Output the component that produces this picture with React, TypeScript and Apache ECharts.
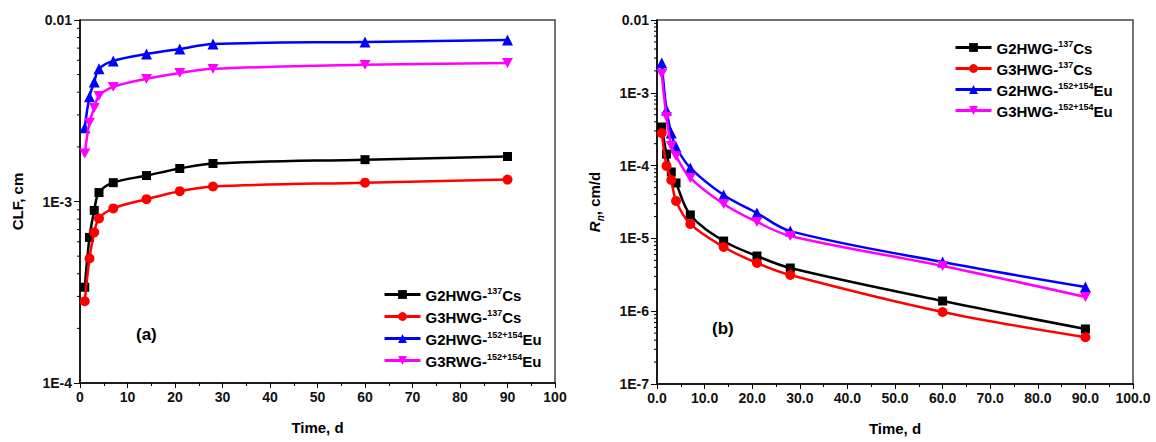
import React, { useEffect, useRef } from "react";
import * as echarts from "echarts";

const days = [1, 2, 3, 4, 7, 14, 21, 28, 60, 90];

// (a) CLF, cm
const clfG2Cs = [3.37e-4, 6.34e-4, 8.93e-4, 1.12e-3, 1.27e-3, 1.39e-3, 1.52e-3, 1.62e-3, 1.70e-3, 1.77e-3];
const clfG3Cs = [2.82e-4, 4.86e-4, 6.76e-4, 8.06e-4, 9.16e-4, 1.03e-3, 1.14e-3, 1.21e-3, 1.27e-3, 1.32e-3];
const clfG2Eu = [2.55e-3, 3.78e-3, 4.56e-3, 5.38e-3, 5.95e-3, 6.5e-3, 6.93e-3, 7.38e-3, 7.57e-3, 7.76e-3];
const clfG3Eu = [1.84e-3, 2.72e-3, 3.28e-3, 3.82e-3, 4.28e-3, 4.74e-3, 5.11e-3, 5.38e-3, 5.66e-3, 5.8e-3];

// (b) Rn, cm/d
const rnG2Cs = [3.39e-4, 1.44e-4, 8.17e-5, 5.77e-5, 2.1e-5, 9.2e-6, 5.73e-6, 3.92e-6, 1.38e-6, 5.7e-7];
const rnG3Cs = [2.8e-4, 9.9e-5, 6.34e-5, 3.27e-5, 1.58e-5, 7.62e-6, 4.59e-6, 3.14e-6, 9.75e-7, 4.4e-7];
const rnG2Eu = [2.57e-3, 5.8e-4, 2.8e-4, 1.8e-4, 9.3e-5, 3.95e-5, 2.23e-5, 1.26e-5, 4.74e-6, 2.15e-6];
const rnG3Eu = [1.81e-3, 4.65e-4, 1.86e-4, 1.35e-4, 6.76e-5, 2.97e-5, 1.68e-5, 1.08e-5, 4.18e-6, 1.57e-6];

const namesA = ["G2HWG-137Cs", "G3HWG-137Cs", "G2HWG-152+154Eu", "G3RWG-152+154Eu"];
const namesB = ["G2HWG-137Cs", "G3HWG-137Cs", "G2HWG-152+154Eu", "G3HWG-152+154Eu"];
const colors = ["#000000", "#ff0000", "#0000ff", "#ff00ff"];
const symbols = ["rect", "circle", "triangle", "path://M0,0 L10,0 L5,9 Z"];
const symbolSizes = [9, 10, 11, 11];

const FONT = "Liberation Sans, Arial, sans-serif";

function minorValues(minExp: number, maxExp: number) {
  const out: number[][] = [];
  for (let e = minExp; e < maxExp; e++) {
    for (let m = 2; m <= 9; m++) out.push([0, m * Math.pow(10, e)]);
  }
  return out;
}

function logLabel(v: number) {
  const e = Math.round(Math.log10(v));
  if (e === -2) return "0.01";
  return "1E" + e;
}

function legendFmt(name: string) {
  const m = name.match(/^(.*-)([\d+]+)([A-Za-z]+)$/);
  if (!m) return name;
  return `{b|${m[1]}}{s|${m[2]}}{b|${m[3]}}`;
}

const legendRich = {
  b: { fontFamily: FONT, fontWeight: "bold", fontSize: 15, color: "#000", lineHeight: 17, verticalAlign: "bottom" },
  s: { fontFamily: FONT, fontWeight: "bold", fontSize: 9, color: "#000", lineHeight: 17, verticalAlign: "top" },
};

export default function App() {
  const ref = useRef<HTMLDivElement>(null);
  useEffect(() => {
    if (!ref.current) return;
    const chart = echarts.init(ref.current, undefined, { renderer: "svg" });

    const axisLabel = { fontFamily: FONT, fontWeight: "bold", fontSize: 14, color: "#111" };
    const axisLine = { show: true, lineStyle: { color: "#000", width: 1.5 } };
    const xCommon = (idx: number, fmt: (v: number) => string) => ({
      type: "value",
      gridIndex: idx,
      min: 0,
      max: 100,
      interval: 10,
      axisLine,
      axisTick: { show: true, inside: false, length: 5, lineStyle: { color: "#000", width: 1 } },
      minorTick: { show: true, splitNumber: 2, length: 3, lineStyle: { color: "#000", width: 1 } },
      splitLine: { show: false },
      axisLabel: { ...axisLabel, margin: 7, formatter: fmt },
      name: "Time, d",
      nameLocation: "middle",
      nameGap: 37,
      nameTextStyle: { fontFamily: FONT, fontWeight: "bold", fontSize: 15, color: "#000" },
    });

    const makeSeries = (names: string[], data: number[][], xi: number, yi: number) =>
      names.map((n, i) => ({
        type: "line",
        name: n,
        xAxisIndex: xi,
        yAxisIndex: yi,
        data: days.map((d, k) => [d, data[i][k]]),
        smooth: 0.35,
        symbol: symbols[i],
        symbolSize: symbolSizes[i],
        symbolKeepAspect: true,
        itemStyle: { color: colors[i] },
        lineStyle: { color: colors[i], width: 2.5 },
        z: 3 + i,
      }));

    const minorTickSeries = (xi: number, yi: number, minExp: number, maxExp: number) => ({
      type: "custom",
      xAxisIndex: xi,
      yAxisIndex: yi,
      silent: true,
      clip: false,
      data: minorValues(minExp, maxExp),
      renderItem: (params: any, api: any) => {
        const p = api.coord([api.value(0), api.value(1)]);
        return {
          type: "line",
          shape: { x1: p[0] - 3, y1: p[1], x2: p[0], y2: p[1] },
          style: { stroke: "#000", lineWidth: 1 },
        };
      },
      z: 10,
    });

    const legendCommon = {
      orient: "vertical",
      itemWidth: 36,
      itemHeight: 11,
      formatter: legendFmt,
      textStyle: { rich: legendRich },
      selectedMode: false,
      lineStyle: { width: 3 },
    };

    chart.setOption({
      animation: false,
      backgroundColor: "#fff",
      grid: [
        { left: 80, top: 20, width: 475, height: 363, show: true, borderColor: "#444", borderWidth: 1.5, backgroundColor: "transparent" },
        { left: 657, top: 20, width: 476, height: 364, show: true, borderColor: "#444", borderWidth: 1.5, backgroundColor: "transparent" },
      ],
      xAxis: [xCommon(0, (v: number) => String(v)), xCommon(1, (v: number) => v.toFixed(1))],
      yAxis: [
        {
          type: "log",
          gridIndex: 0,
          logBase: 10,
          min: 1e-4,
          max: 1e-2,
          interval: 1,
          axisLine,
          axisTick: { show: true, inside: false, length: 6, lineStyle: { color: "#000", width: 1 } },
          splitLine: { show: false },
          axisLabel: { ...axisLabel, formatter: logLabel, margin: 8 },
          name: "CLF, cm",
          nameLocation: "middle",
          nameRotate: 90,
          nameGap: 55,
          nameTextStyle: { fontFamily: FONT, fontWeight: "bold", fontSize: 15, color: "#000" },
        },
        {
          type: "log",
          gridIndex: 1,
          logBase: 10,
          min: 1e-7,
          max: 1e-2,
          interval: 1,
          axisLine,
          axisTick: { show: true, inside: false, length: 6, lineStyle: { color: "#000", width: 1 } },
          splitLine: { show: false },
          axisLabel: { ...axisLabel, formatter: logLabel, margin: 8 },
          name: "{r|R}{n|n}{t|, cm/d}",
          nameLocation: "middle",
          nameRotate: 90,
          nameGap: 52,
          nameTextStyle: {
            fontFamily: FONT,
            fontWeight: "bold",
            fontSize: 15,
            color: "#000",
            rich: {
              r: { fontFamily: FONT, fontWeight: "bold", fontStyle: "italic", fontSize: 15, color: "#000", lineHeight: 18, verticalAlign: "top" },
              n: { fontFamily: FONT, fontWeight: "bold", fontStyle: "italic", fontSize: 10, color: "#000", lineHeight: 18, verticalAlign: "bottom" },
              t: { fontFamily: FONT, fontWeight: "bold", fontSize: 15, color: "#000", lineHeight: 18, verticalAlign: "top" },
            },
          },
        },
      ],
      legend: [
        { ...legendCommon, data: namesA, left: 378, top: 281, itemGap: 5 },
        { ...legendCommon, data: namesB, left: 949, top: 34, itemGap: 4 },
      ],
      graphic: [
        { type: "text", left: 136, top: 326, style: { text: "(a)", fontFamily: FONT, fontWeight: "bold", fontSize: 17, fill: "#000" } },
        { type: "text", left: 712, top: 320, style: { text: "(b)", fontFamily: FONT, fontWeight: "bold", fontSize: 17, fill: "#000" } },
      ],
      series: [
        ...makeSeries(namesA, [clfG2Cs, clfG3Cs, clfG2Eu, clfG3Eu], 0, 0),
        ...makeSeries(namesB, [rnG2Cs, rnG3Cs, rnG2Eu, rnG3Eu], 1, 1),
        minorTickSeries(0, 0, -4, -2),
        minorTickSeries(1, 1, -7, -2),
      ],
    } as any);

    return () => chart.dispose();
  }, []);

  return (
    <div
      ref={ref}
      style={{ position: "fixed", left: 0, top: 0, width: 1156, height: 442, background: "#fff" }}
    />
  );
}
